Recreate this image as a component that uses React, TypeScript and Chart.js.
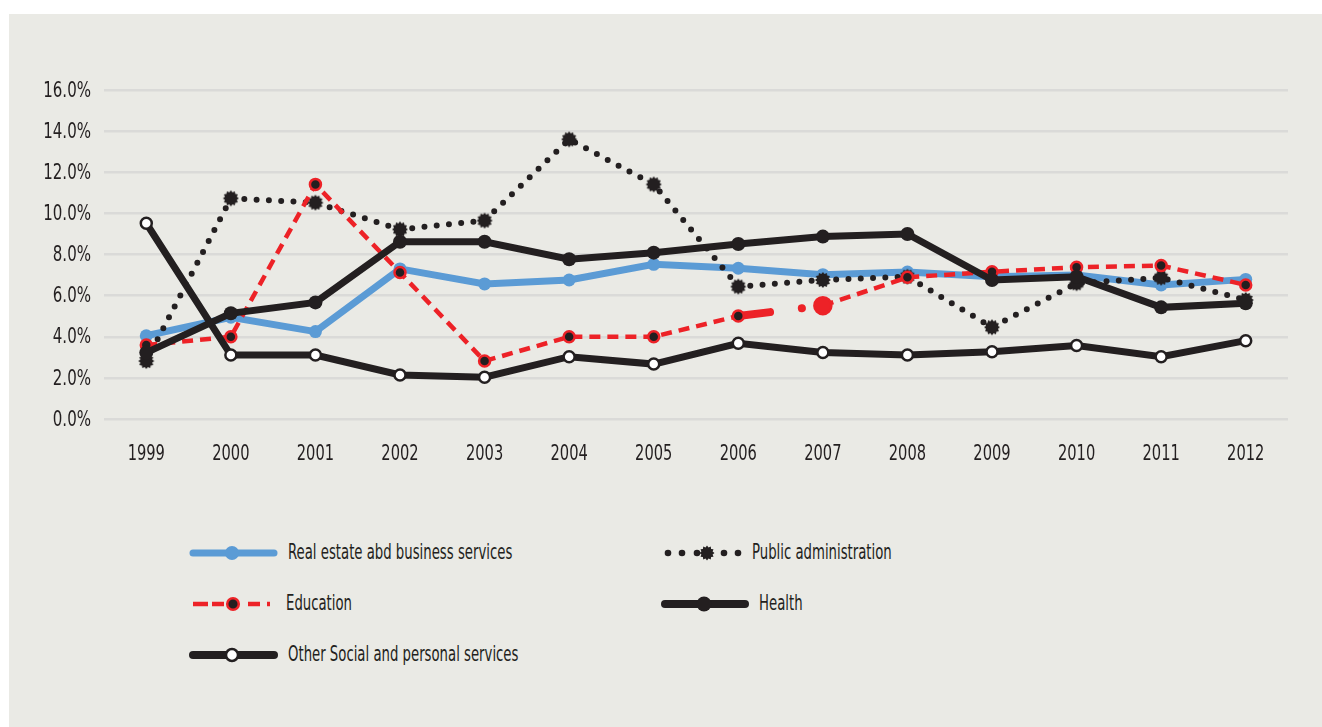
import React, { useEffect, useRef } from 'react';
import { Chart, registerables } from 'chart.js';

Chart.register(...registerables);

// ---------- data ----------
const years = ['1999', '2000', '2001', '2002', '2003', '2004', '2005', '2006', '2007', '2008', '2009', '2010', '2011', '2012'];
const realEstate = [4.05, 4.95, 4.25, 7.3, 6.57, 6.76, 7.52, 7.33, 7.02, 7.15, 6.92, 7.0, 6.52, 6.79];
const publicAdmin = [2.82, 10.73, 10.52, 9.22, 9.65, 13.6, 11.41, 6.44, 6.76, 6.92, 4.46, 6.6, 6.87, 5.79];
const education = [3.6, 4.0, 11.41, 7.12, 2.82, 4.0, 4.0, 5.01, 5.51, 6.89, 7.16, 7.38, 7.46, 6.52];
const health = [3.23, 5.14, 5.67, 8.62, 8.62, 7.77, 8.09, 8.51, 8.87, 9.0, 6.76, 6.92, 5.43, 5.63];
const otherSocial = [9.52, 3.11, 3.11, 2.14, 2.03, 3.03, 2.67, 3.68, 3.23, 3.11, 3.27, 3.57, 3.03, 3.81];
const seriesNames = [
  'Real estate abd business services',
  'Public administration',
  'Education',
  'Health',
  'Other Social and personal services',
];
const yMin = 0;
const yMax = 16;
const yStep = 2;

// ---------- style ----------
const INK = '#231F20';
const BLUE = '#5B9BD5';
const RED = '#ED2227';
const PANEL = '#EAEAE5';
const GRID = '#DADAD8';
const FONT = "'DejaVu Sans Condensed', 'Liberation Sans Narrow', sans-serif";
const NARROW_X = 0.74;
const NARROW_Y = 0.76;

function makeBurst(size: number, ro: number, ri: number): HTMLCanvasElement {
  const c = document.createElement('canvas');
  c.width = size;
  c.height = size;
  const ctx = c.getContext('2d')!;
  ctx.fillStyle = INK;
  ctx.beginPath();
  const n = 12;
  for (let i = 0; i < n * 2; i++) {
    const r = i % 2 === 0 ? ro : ri;
    const a = (i * Math.PI) / n;
    ctx.lineTo(size / 2 + r * Math.cos(a), size / 2 + r * Math.sin(a));
  }
  ctx.closePath();
  ctx.fill();
  return c;
}

// condensed axis labels drawn at the scales' own tick positions
const condensedLabelPlugin = {
  id: 'condensedLabels',
  afterDraw(chart: any) {
    const sx = chart.scales.x;
    const sy = chart.scales.y;
    const ctx = chart.ctx;
    ctx.save();
    ctx.fillStyle = INK;
    ctx.font = `22px ${FONT}`;
    ctx.textAlign = 'center';
    ctx.textBaseline = 'alphabetic';
    (chart.data.labels as string[]).forEach((lab, i) => {
      const x = sx.getPixelForTick(i);
      ctx.save();
      ctx.translate(x, sx.top + 41);
      ctx.scale(NARROW_X, 1);
      ctx.fillText(lab, 0, 0);
      ctx.restore();
    });
    ctx.textAlign = 'right';
    ctx.textBaseline = 'middle';
    sy.ticks.forEach((t: any, i: number) => {
      const y = sy.getPixelForTick(i);
      ctx.save();
      ctx.translate(sy.right - 13, y + 1);
      ctx.scale(NARROW_Y, 1);
      ctx.fillText(Number(t.value).toFixed(1) + '%', 0, 0);
      ctx.restore();
    });
    ctx.restore();
  },
};

function Burst({ cx, cy }: { cx: number; cy: number }) {
  const pts: string[] = [];
  const n = 12;
  for (let i = 0; i < n * 2; i++) {
    const r = i % 2 === 0 ? 7.5 : 5.8;
    const a = (i * Math.PI) / n;
    pts.push(`${cx + r * Math.cos(a)},${cy + r * Math.sin(a)}`);
  }
  return <polygon points={pts.join(' ')} fill={INK} />;
}

function LegendSample({ kind, x, y }: { kind: string; x: number; y: number }) {
  const w = 90;
  const h = 24;
  const cy = h / 2;
  let body: React.ReactNode = null;
  if (kind === 'blue') {
    body = (
      <>
        <line x1={3} y1={cy} x2={84} y2={cy} stroke={BLUE} strokeWidth={7} strokeLinecap="round" />
        <circle cx={42} cy={cy} r={7} fill={BLUE} />
      </>
    );
  } else if (kind === 'dots') {
    body = (
      <>
        {[2, 16, 31, 58, 72].map((dx) => (
          <circle key={dx} cx={dx + 1} cy={cy} r={3.3} fill={INK} />
        ))}
        <Burst cx={42} cy={cy} />
      </>
    );
  } else if (kind === 'dash') {
    body = (
      <>
        {[
          [3, 18],
          [22, 34],
          [58, 70],
          [77, 80],
        ].map(([a, b]) => (
          <line key={a} x1={a} y1={cy} x2={b} y2={cy} stroke={RED} strokeWidth={4.5} />
        ))}
        <circle cx={43} cy={cy} r={5.8} fill={INK} stroke={RED} strokeWidth={2.5} />
      </>
    );
  } else if (kind === 'health') {
    body = (
      <>
        <line x1={3} y1={cy} x2={83} y2={cy} stroke={INK} strokeWidth={8} strokeLinecap="round" />
        <circle cx={42} cy={cy} r={7.5} fill={INK} />
      </>
    );
  } else {
    body = (
      <>
        <line x1={3} y1={cy} x2={84} y2={cy} stroke={INK} strokeWidth={8} strokeLinecap="round" />
        <circle cx={42} cy={cy} r={6} fill="#FFFFFF" stroke={INK} strokeWidth={2.5} />
      </>
    );
  }
  return (
    <svg
      width={w}
      height={h}
      style={{ position: 'absolute', left: x, top: y - cy, overflow: 'visible' }}
    >
      {body}
    </svg>
  );
}

function LegendText({ text, x, baseline }: { text: string; x: number; baseline: number }) {
  return (
    <div
      style={{
        position: 'absolute',
        left: x,
        top: baseline - 18.6,
        font: `22px ${FONT}`,
        lineHeight: '22px',
        color: INK,
        whiteSpace: 'nowrap',
        transform: 'scaleX(0.67)',
        transformOrigin: 'left center',
      }}
    >
      {text}
    </div>
  );
}

export default function App() {
  const canvasRef = useRef<HTMLCanvasElement | null>(null);

  useEffect(() => {
    const canvas = canvasRef.current;
    if (!canvas) return;
    const burst = makeBurst(18, 8, 6.2);
    const eduRadius = education.map((_, i) => (i === 8 ? 8.5 : 5.5));
    const eduFill = education.map((_, i) => (i === 8 ? RED : INK));

    const chart = new Chart(canvas, {
      type: 'line',
      data: {
        labels: years,
        datasets: [
          {
            label: seriesNames[0],
            data: realEstate,
            borderColor: BLUE,
            backgroundColor: BLUE,
            borderWidth: 7,
            pointRadius: 6.5,
            pointBorderWidth: 0,
            pointBackgroundColor: BLUE,
            tension: 0,
            order: 5,
          },
          {
            label: seriesNames[1],
            data: publicAdmin,
            borderColor: INK,
            borderWidth: 6,
            borderDash: [0, 12.3],
            borderCapStyle: 'round',
            pointStyle: burst as any,
            pointRadius: 8,
            tension: 0,
            order: 4,
          },
          {
            label: seriesNames[2],
            data: education,
            borderColor: RED,
            borderWidth: 4.5,
            borderDash: [11, 7],
            pointRadius: eduRadius,
            pointBackgroundColor: eduFill,
            pointBorderColor: RED,
            pointBorderWidth: 2.5,
            tension: 0,
            order: 3,
            segment: {
              borderWidth: (ctx: any) => (ctx.p0DataIndex === 7 ? 8 : undefined),
              borderDash: (ctx: any) => (ctx.p0DataIndex === 7 ? [32, 32, 0.1, 300] : undefined),
              borderCapStyle: (ctx: any) => (ctx.p0DataIndex === 7 ? 'round' : undefined),
            },
          } as any,
          {
            label: seriesNames[4],
            data: otherSocial,
            borderColor: INK,
            borderWidth: 7,
            pointRadius: 5.5,
            pointBackgroundColor: '#FFFFFF',
            pointBorderColor: INK,
            pointBorderWidth: 2.5,
            tension: 0,
            order: 2,
          },
          {
            label: seriesNames[3],
            data: health,
            borderColor: INK,
            borderWidth: 7,
            pointRadius: 7,
            pointBackgroundColor: INK,
            pointBorderWidth: 0,
            tension: 0,
            order: 1,
          },
        ],
      },
      options: {
        animation: false,
        responsive: false,
        maintainAspectRatio: false,
        layout: { padding: { top: 90, right: 34, left: 0, bottom: 0 } },
        plugins: { legend: { display: false }, tooltip: { enabled: false } },
        scales: {
          x: {
            offset: true,
            grid: { display: false, drawTicks: false },
            border: { display: false },
            ticks: { display: false, autoSkip: false, maxRotation: 0 },
            afterFit: (s: any) => {
              s.height = 71;
            },
          },
          y: {
            min: yMin,
            max: yMax,
            ticks: { display: false, stepSize: yStep },
            grid: { color: GRID, lineWidth: 2.5, drawTicks: false },
            border: { display: false },
            afterFit: (s: any) => {
              s.width = 104;
            },
          },
        },
      } as any,
      plugins: [condensedLabelPlugin],
    });
    return () => chart.destroy();
  }, []);

  const legendItems = [
    { kind: 'blue', name: seriesNames[0], sx: 190, tx: 288, y: 553 },
    { kind: 'dots', name: seriesNames[1], sx: 665, tx: 752, y: 553 },
    { kind: 'dash', name: seriesNames[2], sx: 190, tx: 286, y: 604 },
    { kind: 'health', name: seriesNames[3], sx: 662, tx: 759, y: 604 },
    { kind: 'other', name: seriesNames[4], sx: 190, tx: 288, y: 655 },
  ];

  return (
    <>
      <div
        style={{
          position: 'absolute',
          left: 9,
          top: 14,
          width: 1313,
          height: 713,
          background: PANEL,
        }}
      />
      <canvas
        ref={canvasRef}
        width={1322}
        height={490}
        style={{ position: 'absolute', left: 0, top: 0, width: 1322, height: 490 }}
      />
      {legendItems.map((it) => (
        <React.Fragment key={it.name}>
          <LegendSample kind={it.kind} x={it.sx} y={it.y} />
          <LegendText text={it.name} x={it.tx} baseline={it.y + 7} />
        </React.Fragment>
      ))}
    </>
  );
}
